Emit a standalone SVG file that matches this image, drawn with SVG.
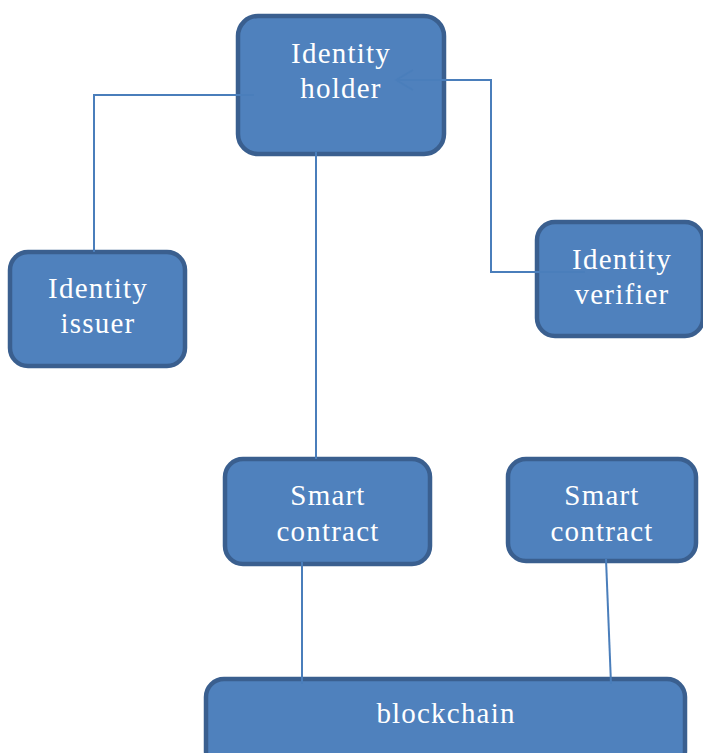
<svg xmlns="http://www.w3.org/2000/svg" width="703" height="753" viewBox="0 0 703 753">
  <style>
    .box { fill: #4f81bd; stroke: #3a5f8f; stroke-width: 4.5; }
    .label { fill: #ffffff; font-family: "Liberation Serif", "Times New Roman", serif; font-size: 29px; letter-spacing: 1.2px; text-anchor: middle; }
    .link { fill: none; stroke: #4a7ebb; stroke-width: 2; }
  </style>
  <defs>
    <!-- open chevron arrowhead, tip at the path end -->
    <marker id="open-arrow" markerWidth="20" markerHeight="24" refX="18" refY="11" orient="auto" markerUnits="userSpaceOnUse">
      <path d="M1,1 L18,11 L1,21" fill="none" stroke="#4a7ebb" stroke-width="1.6"/>
    </marker>
  </defs>

  <rect width="703" height="753" fill="#ffffff"/>

  <g id="identity-holder">
    <rect class="box" x="238" y="16" width="206" height="138" rx="20"/>
    <text class="label" x="341" y="63">Identity</text>
    <text class="label" x="341" y="98">holder</text>
  </g>

  <g id="identity-issuer">
    <rect class="box" x="10" y="252" width="175" height="114" rx="18"/>
    <text class="label" x="98" y="298">Identity</text>
    <text class="label" x="98" y="333">issuer</text>
  </g>

  <g id="identity-verifier">
    <rect class="box" x="537" y="222" width="166" height="114" rx="18"/>
    <text class="label" x="622" y="269">Identity</text>
    <text class="label" x="622" y="304">verifier</text>
  </g>

  <g id="smart-contract-1">
    <rect class="box" x="225" y="459" width="205" height="105" rx="18"/>
    <text class="label" x="328" y="505">Smart</text>
    <text class="label" x="328" y="541">contract</text>
  </g>

  <g id="smart-contract-2">
    <rect class="box" x="508" y="459" width="188" height="102" rx="18"/>
    <text class="label" x="602" y="505">Smart</text>
    <text class="label" x="602" y="541">contract</text>
  </g>

  <g id="blockchain">
    <rect class="box" x="206" y="679" width="479" height="90" rx="18"/>
    <text class="label" x="446" y="723">blockchain</text>
  </g>

  <g id="connectors">
    <polyline class="link" points="254,95 94,95 94,252"/>
    <line class="link" x1="316" y1="152" x2="316" y2="459"/>
    <polyline class="link" points="585,272 491,272 491,80 396,80" marker-end="url(#open-arrow)"/>
    <line class="link" x1="302" y1="562" x2="302" y2="684"/>
    <line class="link" x1="606" y1="559" x2="611" y2="684"/>
  </g>
</svg>
